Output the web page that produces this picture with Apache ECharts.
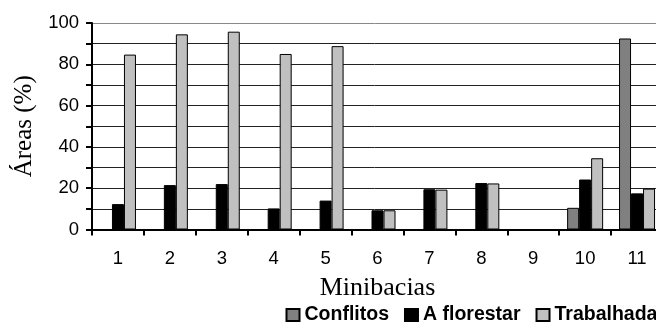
<!DOCTYPE html>
<html>
<head>
<meta charset="utf-8">
<script src="https://cdn.jsdelivr.net/npm/echarts@6/dist/echarts.min.js"></script>
<style>
html,body{margin:0;padding:0;background:#fff;}
#chart{width:656px;height:323px;}
</style>
</head>
<body>
<div id="chart"></div>
<script>
const categories = ['1','2','3','4','5','6','7','8','9','10','11'];
const conflitos  = [0, 0, 0, 0, 0, 0, 0, 0, 0, 10.5, 92.5];
const aFlorestar = [12.3, 21.5, 22, 10.2, 14, 9.3, 19.5, 22.5, 0, 24.2, 17.5];
const trabalhada = [84.7, 94.5, 95.8, 85, 88.8, 9.3, 19.3, 22.3, 0, 34.5, 19.8];
const yTicks = [0, 20, 40, 60, 80, 100];

const chart = echarts.init(document.getElementById('chart'), null, {renderer: 'canvas'});
const barCommon = {
  type: 'bar',
  barWidth: 12,
  barGap: '0%',
  barCategoryGap: '30%'
};
chart.setOption({
  animation: false,
  backgroundColor: '#fff',
  grid: {left: 92, top: 23, width: 571, bottom: 93.5, containLabel: false, outerBoundsMode: 'none'},
  legend: {
    left: 285.5, top: 305, width: 700, padding: 0,
    itemWidth: 13, itemHeight: 12, itemGap: 15,
    icon: 'rect',
    textStyle: {fontFamily: 'Liberation Sans', fontWeight: 'bold', fontSize: 19.5, color: '#000'},
    data: ['Conflitos', 'A florestar', 'Trabalhada']
  },
  xAxis: {
    type: 'category',
    data: categories,
    name: 'Minibacias',
    nameLocation: 'middle',
    nameGap: 46,
    nameTextStyle: {fontFamily: 'Liberation Serif', fontSize: 26, color: '#000'},
    axisLine: {lineStyle: {color: '#000', width: 2}},
    axisTick: {show: true, length: 6, lineStyle: {color: '#000', width: 2}},
    axisLabel: {fontFamily: 'Liberation Sans', fontSize: 18.5, color: '#000', margin: 20},
    splitLine: {show: false}
  },
  yAxis: {
    type: 'value',
    min: 0, max: 100, interval: 20,
    name: 'Áreas (%)',
    nameLocation: 'middle',
    nameGap: 51,
    nameTextStyle: {fontFamily: 'Liberation Serif', fontSize: 25, color: '#000'},
    axisLine: {show: true, lineStyle: {color: '#000', width: 2}},
    axisTick: {show: true, length: 6, lineStyle: {color: '#000', width: 2}},
    minorTick: {show: true, splitNumber: 2, length: 6, lineStyle: {color: '#000', width: 2}},
    axisLabel: {
      fontFamily: 'Liberation Sans', fontSize: 18.5, color: '#000', margin: 13,
      formatter: v => yTicks.includes(v) ? String(v) : ''
    },
    splitLine: {show: true, lineStyle: {color: ['#222','#222','#222','#222','#222','#888'], width: 1}},
    minorSplitLine: {show: true, lineStyle: {color: '#222', width: 1}}
  },
  series: [
    Object.assign({}, barCommon, {name: 'Conflitos', data: conflitos, itemStyle: {color: '#808080', borderColor: '#000', borderWidth: 1}}),
    Object.assign({}, barCommon, {name: 'A florestar', data: aFlorestar, itemStyle: {color: '#000000', borderColor: '#000', borderWidth: 1}}),
    Object.assign({}, barCommon, {name: 'Trabalhada', data: trabalhada, itemStyle: {color: '#c0c0c0', borderColor: '#000', borderWidth: 1}})
  ]
});
</script>
</body>
</html>
